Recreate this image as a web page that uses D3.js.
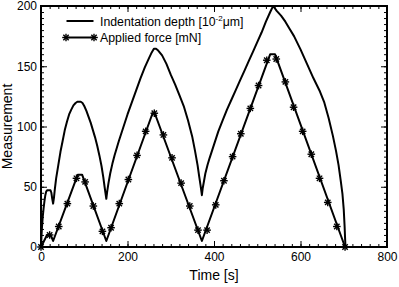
<!DOCTYPE html>
<html>
<head>
<meta charset="utf-8">
<script src="https://cdn.jsdelivr.net/npm/d3@7"></script>
<style>
  body { margin: 0; background: #fff; }
  svg { display: block; font-family: "Liberation Sans", Arial, sans-serif; }
  .axis path { display: none; }
  .axis line { stroke: #000; stroke-width: 1; }
  .axis text { font-size: 12px; fill: #000; }
</style>
</head>
<body>
<div id="chart"></div>
<script>
/*global d3*/

var depthTime = [0, 1, 2, 4, 6, 8, 10, 12, 14, 22, 24, 26, 28, 30, 32, 35, 40, 45, 50, 55, 60, 65, 70, 75, 80, 84, 92, 96,
  100, 105, 110, 115, 120, 125, 130, 135, 140, 144, 147, 149, 151, 153, 156, 160, 165, 170, 175, 180, 190, 200, 210, 220,
  230, 240, 250, 256, 261, 266, 271, 280, 290, 300, 310, 320, 330, 340, 350, 356, 362, 366, 369, 372, 374, 377, 380, 385,
  390, 400, 410, 420, 430, 440, 450, 460, 470, 480, 490, 500, 510, 520, 530, 536, 538, 545, 555, 565, 575, 585, 600, 615,
  630, 645, 655, 665, 675, 682, 688, 693, 697, 700, 702, 703, 704];
var depthValue = [0, 8, 15, 25, 32, 38, 43, 46, 47, 47, 45, 40, 36, 41, 48, 57, 68, 79, 88, 97, 104, 110, 114, 117.5, 119.5, 120.5, 120.5, 119.5,
  117, 113, 108, 103, 97, 91, 84, 76, 67, 58, 50, 45, 40, 46, 53, 61, 69, 76, 82, 88, 99, 110, 120, 130,
  140, 149, 157, 161.5, 164.5, 164.5, 163, 159, 152, 143, 135, 126, 117, 105, 91, 80, 68, 58, 51, 43, 49, 55, 61, 68,
  74, 85, 96, 105, 114, 122, 130, 138, 146, 154, 162, 170, 178, 187, 195, 199.5, 199.5, 196, 192, 187, 181, 175, 164, 152,
  140, 129, 120, 107, 92, 80, 68, 55, 44, 31, 17, 8, 0];

// force line corners
var forceTime = [0, 14, 22, 28, 85, 95, 151, 258, 263, 372, 530, 541, 703];
var forceValue = [0, 10, 10, 5, 60, 60, 5, 111, 111, 5, 160, 160, 0];

// star symbols along the force line
var markTime = [0, 20, 41, 61, 82, 102, 121, 142, 162, 181, 202, 222, 242, 262, 283, 303, 324, 344, 363, 384,
  404, 423, 443, 462, 484, 503, 522, 544, 565, 584, 605, 625, 644, 663, 684, 703];
var markValue = [0, 10, 17, 36, 57, 54, 34, 13, 16, 36, 56, 76, 96, 111, 93, 74, 53, 34, 14, 14,
  35, 55, 75, 94, 115, 134, 155, 156, 137, 116, 96, 77, 57, 37, 17, 0];

var xTicks = [0, 200, 400, 600, 800];
var yTicks = [0, 50, 100, 150, 200];
var legendNames = ['Indentation depth [10', '-2', '\u03bcm]', 'Applied force [mN]'];

(function() {
  'use strict';

  var width = 399, height = 287;
  var left = 41, right = 387, top = 6, bottom = 247;

  var svg = d3.select('#chart').append('svg')
    .attr('width', width)
    .attr('height', height);

  var x = d3.scaleLinear().domain([0, 800]).range([left, right]);
  var y = d3.scaleLinear().domain([0, 200]).range([bottom, top]);

  var minorX = d3.range(0, 801, 20);
  var minorY = d3.range(0, 201, 5);

  var addAxis = function(axis, tx, ty) {
    svg.append('g').attr('class', 'axis')
      .attr('transform', 'translate(' + tx + ',' + ty + ')')
      .call(axis);
  };

  // minor ticks, all four sides, pointing in
  addAxis(d3.axisBottom(x).tickValues(minorX).tickSize(-3).tickFormat(''), 0, bottom);
  addAxis(d3.axisTop(x).tickValues(minorX).tickSize(-3).tickFormat(''), 0, top);
  addAxis(d3.axisLeft(y).tickValues(minorY).tickSize(-3).tickFormat(''), left, 0);
  addAxis(d3.axisRight(y).tickValues(minorY).tickSize(-3).tickFormat(''), right, 0);

  // major ticks
  addAxis(d3.axisBottom(x).tickValues(xTicks).tickSize(-6).tickPadding(5).tickFormat(d3.format('d')), 0, bottom);
  addAxis(d3.axisTop(x).tickValues(xTicks).tickSize(-6).tickFormat(''), 0, top);
  addAxis(d3.axisLeft(y).tickValues(yTicks).tickSize(-6).tickPadding(4).tickFormat(d3.format('d')), left, 0);
  addAxis(d3.axisRight(y).tickValues(yTicks).tickSize(-6).tickFormat(''), right, 0);

  svg.append('rect')
    .attr('x', left).attr('y', top)
    .attr('width', right - left).attr('height', bottom - top)
    .attr('fill', 'none')
    .attr('stroke', '#000')
    .attr('stroke-width', 2);

  var line = d3.line()
    .x(function(d) { return x(d[0]); })
    .y(function(d) { return y(d[1]); });

  var depth = d3.zip(depthTime, depthValue);
  var force = d3.zip(forceTime, forceValue);
  var marks = d3.zip(markTime, markValue);

  svg.append('path')
    .attr('d', line(depth))
    .attr('fill', 'none')
    .attr('stroke', '#000')
    .attr('stroke-width', 2)
    .attr('stroke-linejoin', 'round');

  svg.append('path')
    .attr('d', line(force))
    .attr('fill', 'none')
    .attr('stroke', '#000')
    .attr('stroke-width', 2)
    .attr('stroke-linejoin', 'round');

  var star = function(g, cx, cy) {
    var r = 3.8;
    var s = g.append('g').attr('transform', 'translate(' + cx + ',' + cy + ')');
    [0, 45, 90, 135].forEach(function(a) {
      var rad = a * Math.PI / 180;
      s.append('line')
        .attr('x1', -r * Math.cos(rad)).attr('y1', -r * Math.sin(rad))
        .attr('x2', r * Math.cos(rad)).attr('y2', r * Math.sin(rad))
        .attr('stroke', '#000')
        .attr('stroke-width', 1.4);
    });
  };

  var markG = svg.append('g');
  marks.forEach(function(d) {
    star(markG, x(d[0]), y(d[1]));
  });

  // legend
  var lg = svg.append('g');
  lg.append('line')
    .attr('x1', 66.5).attr('x2', 93.5).attr('y1', 21).attr('y2', 21)
    .attr('stroke', '#000').attr('stroke-width', 2);
  var t1 = lg.append('text')
    .attr('x', 100).attr('y', 25.5)
    .style('font-size', '12.3px');
  t1.append('tspan').text(legendNames[0]);
  t1.append('tspan').attr('dy', -5).style('font-size', '8px').text(legendNames[1]);
  t1.append('tspan').attr('dy', 5).text(legendNames[2]);

  lg.append('line')
    .attr('x1', 66).attr('x2', 94).attr('y1', 37.5).attr('y2', 37.5)
    .attr('stroke', '#000').attr('stroke-width', 2);
  star(lg, 66, 37.5);
  star(lg, 94, 37.5);
  lg.append('text')
    .attr('x', 100).attr('y', 42)
    .style('font-size', '12.3px')
    .text(legendNames[3]);

  // axis titles
  svg.append('text')
    .attr('x', (left + right) / 2).attr('y', 280)
    .attr('text-anchor', 'middle')
    .style('font-size', '14px')
    .text('Time [s]');

  svg.append('text')
    .attr('transform', 'translate(12,' + ((top + bottom) / 2) + ') rotate(-90)')
    .attr('text-anchor', 'middle')
    .style('font-size', '14px')
    .text('Measurement');
})();
</script>
</body>
</html>
